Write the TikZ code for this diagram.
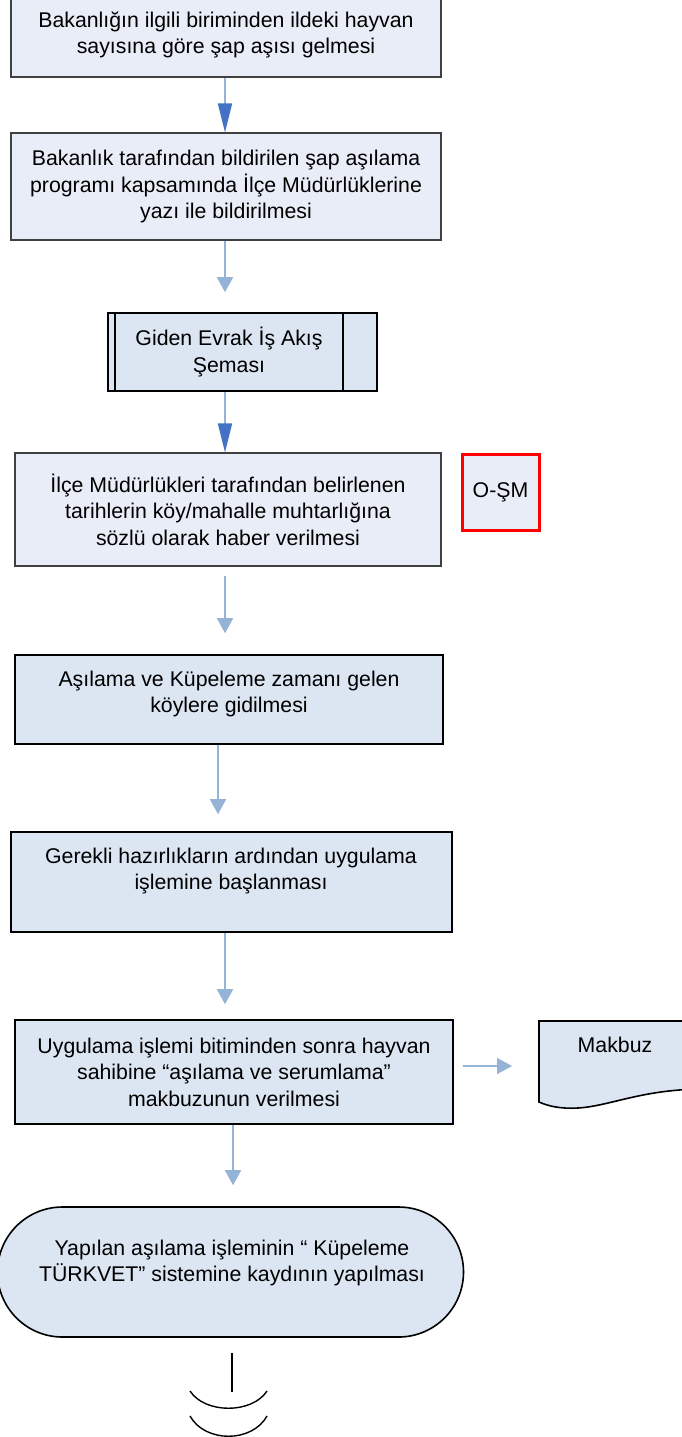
\documentclass[tikz,border=0pt]{standalone}
\usepackage{fontspec}
\setmainfont{Liberation Sans}
\usetikzlibrary{arrows.meta,calc}
\definecolor{lineblue}{HTML}{95B3D7}
\definecolor{headdark}{HTML}{4472C4}
\definecolor{filllav}{HTML}{E9EDF7}
\definecolor{fillblue}{HTML}{DCE6F2}
\definecolor{edgegray}{HTML}{404040}
\tikzset{
  txt/.style={align=center,font=\fontsize{21.3}{26.5}\selectfont,inner sep=0pt},
  lavbox/.style={draw=edgegray,line width=1.2pt,fill=filllav,inner sep=0pt,txt},
  bluebox/.style={draw=black,line width=1.6pt,fill=fillblue,inner sep=0pt,txt},
  darrow/.style={draw=lineblue,line width=1.6pt,-{Triangle[length=29pt,width=14pt,color=headdark]}},
  larrow/.style={draw=lineblue,line width=1.6pt,-{Triangle[length=15pt,width=16pt,color=lineblue]}},
}
\begin{document}
\begin{tikzpicture}[x=1pt,y=-1pt]
\useasboundingbox (0,0) rectangle (681,1437);

% boxes
\node[lavbox,minimum width=430pt,minimum height=78pt] (b1) at (226,38) {};
\node[txt] (t1) at (226,35) {Bakanlığın ilgili biriminden ildeki hayvan\\sayısına göre şap aşısı gelmesi};

\node[lavbox,minimum width=430pt,minimum height=107pt] (b2) at (226,186.5)
  {Bakanlık tarafından bildirilen şap aşılama\\programı kapsamında İlçe Müdürlüklerine\\yazı ile bildirilmesi};

\node[bluebox,minimum width=269pt,minimum height=78pt] (b3) at (242.5,352) {};
\draw[black,line width=1.6pt] ($(b3.north west)+(8,0)$) -- ($(b3.south west)+(8,0)$);
\draw[black,line width=1.6pt] ($(b3.north east)+(-35,0)$) -- ($(b3.south east)+(-35,0)$);
\node[txt] (t3) at (229,352) {Giden Evrak İş Akış\\Şeması};

\node[lavbox,minimum width=426pt,minimum height=113pt] (b4) at (228,509.5)
  {İlçe Müdürlükleri tarafından belirlenen\\tarihlerin köy/mahalle muhtarlığına\\sözlü olarak haber verilmesi};

\node[draw=red,line width=3pt,fill=filllav,txt,minimum width=77pt,minimum height=76pt] (osm) at (500.5,492) {O-ŞM};

\node[bluebox,minimum width=428pt,minimum height=89pt] (b5) at (229,699.5) {};
\node[txt] (t5) at (229,694) {Aşılama ve Küpeleme zamanı gelen\\köylere gidilmesi};

\node[bluebox,minimum width=441pt,minimum height=100pt] (b6) at (231.5,882) {};
\node[txt] (t6) at (231,871) {Gerekli hazırlıkların ardından uygulama\\işlemine başlanması};

\node[bluebox,minimum width=438pt,minimum height=104pt] (b7) at (234,1072)
  {Uygulama işlemi bitiminden sonra hayvan\\sahibine “aşılama ve serumlama”\\makbuzunun verilmesi};

% document shape
\draw[black,line width=1.6pt,fill=fillblue] (539,1021) -- (700,1021) -- (700,1089)
  .. controls (640,1090) and (610,1106) .. (578,1108)
  .. controls (560,1109) and (548,1106) .. (539,1102) -- cycle;
\node[txt] (mak) at (615,1045) {Makbuz};
\coordinate (makL) at (539,1066);

% terminator
\node[bluebox,rounded corners=64.9pt,minimum width=466pt,minimum height=130pt] (term) at (230.5,1272) {};
\node[txt] (tt) at (232,1263) {Yapılan aşılama işleminin “ Küpeleme\\TÜRKVET” sistemine kaydının yapılması};

% arrows
\coordinate (ax) at (225,0);
\coordinate (ax5) at (218,0);
\coordinate (ax7) at (233,0);
\draw[darrow] (ax |- b1.south) -- (ax |- b2.north);
\draw[larrow,shorten >=20pt] (ax |- b2.south) -- (ax |- b3.north);
\draw[darrow] (ax |- b3.south) -- (ax |- b4.north);
\draw[larrow,shorten <=9pt,shorten >=21pt] (ax |- b4.south) -- (ax |- b5.north);
\draw[larrow,shorten >=17pt] (ax5 |- b5.south) -- (ax5 |- b6.north);
\draw[larrow,shorten >=15pt] (ax |- b6.south) -- (ax |- b7.north);
\draw[larrow,shorten >=21pt] (ax7 |- b7.south) -- (ax7 |- term.north);
\draw[larrow,shorten <=9pt,shorten >=27pt] (b7.east |- makL) -- (makL);

% off-page connector
\draw[black,line width=1.4pt] (232,1353) -- (232,1392);
\draw[black,line width=1.4pt] (190,1391) .. controls (205,1414) and (252,1414) .. (267,1391);
\draw[black,line width=1.4pt] (190,1416) .. controls (205,1443) and (252,1443) .. (267,1416);
\end{tikzpicture}
\end{document}
